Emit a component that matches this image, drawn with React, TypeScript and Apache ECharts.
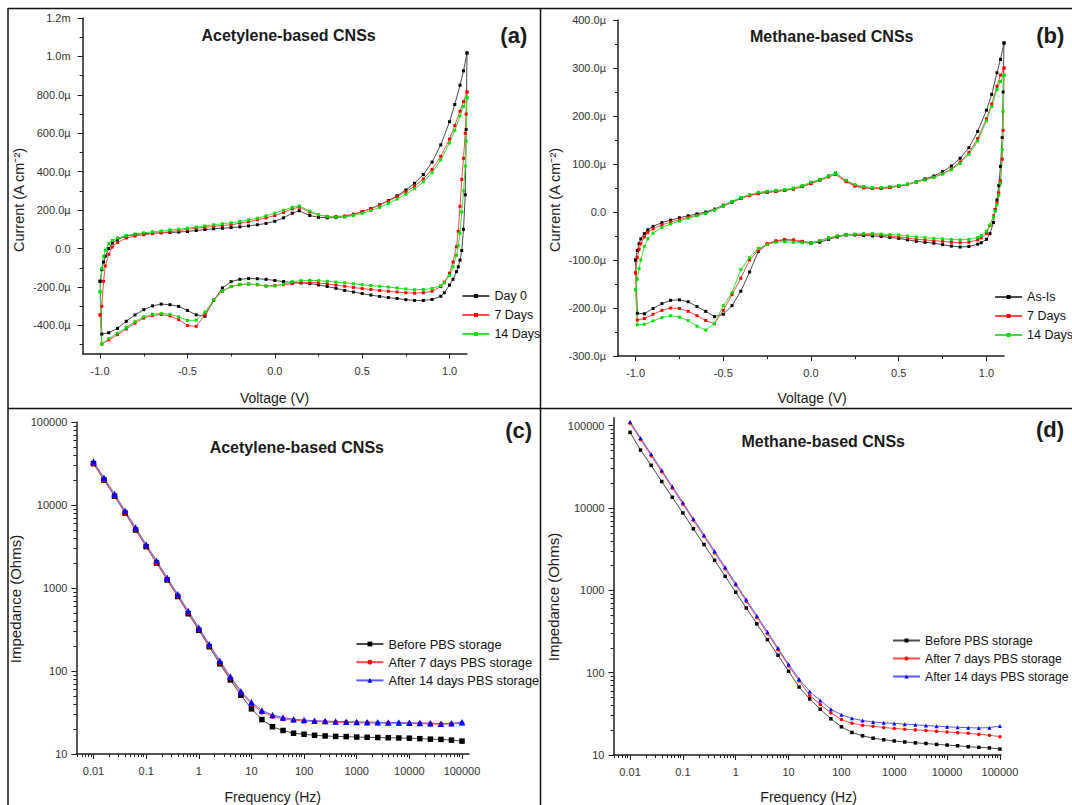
import React, { useEffect, useRef } from 'react';
import * as echarts from 'echarts';

// ---------------- CV data (µA cm^-2) ----------------
const CV_V_FWD = [-1.0, -0.99, -0.98, -0.97, -0.95, -0.93, -0.9, -0.85, -0.8, -0.75, -0.7, -0.65, -0.6, -0.55, -0.5, -0.45, -0.4, -0.35, -0.3, -0.25, -0.2, -0.15, -0.1, -0.05, 0, 0.05, 0.1, 0.14, 0.2, 0.25, 0.3, 0.35, 0.4, 0.45, 0.5, 0.55, 0.6, 0.65, 0.7, 0.75, 0.8, 0.85, 0.9, 0.95, 1.0, 1.03, 1.06, 1.08, 1.1];
const CV_V_REV = [1.1, 1.095, 1.09, 1.08, 1.07, 1.06, 1.05, 1.04, 1.02, 1.0, 0.97, 0.95, 0.9, 0.85, 0.8, 0.75, 0.7, 0.65, 0.6, 0.55, 0.5, 0.45, 0.4, 0.35, 0.3, 0.25, 0.2, 0.15, 0.1, 0.05, 0, -0.05, -0.1, -0.15, -0.2, -0.25, -0.3, -0.35, -0.4, -0.45, -0.5, -0.55, -0.6, -0.65, -0.7, -0.75, -0.8, -0.85, -0.9, -0.95, -0.99];

// (a) Acetylene-based CNSs
const A_DAY0_FWD = [-170, -110, -70, -40, 0, 28, 48, 64, 73, 78, 80, 82, 84, 86, 89, 94, 99, 103, 106, 109, 113, 118, 124, 131, 142, 160, 184, 197, 172, 163, 160, 161, 166, 177, 192, 208, 228, 250, 275, 305, 340, 385, 450, 540, 660, 750, 850, 925, 1018];
const A_DAY0_REV = [1018, 620, 280, 100, -10, -60, -95, -120, -160, -190, -230, -248, -265, -270, -270, -266, -260, -255, -249, -242, -234, -226, -218, -207, -197, -189, -182, -179, -177, -172, -166, -160, -157, -156, -160, -172, -205, -270, -352, -345, -322, -301, -292, -289, -298, -318, -345, -378, -415, -438, -445];
const A_7D_FWD = [-345, -300, -170, -90, -30, 8, 32, 55, 65, 72, 78, 83, 88, 94, 100, 106, 111, 116, 120, 124, 132, 140, 150, 160, 172, 188, 207, 215, 190, 175, 168, 167, 170, 180, 192, 208, 226, 247, 270, 296, 325, 362, 412, 480, 570, 640, 715, 765, 815];
const A_7D_REV = [815, 700, 600, 470, 360, 220, 90, 10, -70, -128, -175, -198, -222, -230, -232, -230, -226, -222, -218, -213, -208, -202, -196, -190, -184, -179, -176, -176, -182, -188, -192, -195, -188, -185, -188, -198, -222, -268, -345, -405, -400, -370, -350, -343, -348, -362, -388, -418, -448, -475, -497];
const A_14D_FWD = [-225, -103, -40, -8, 25, 42, 55, 68, 76, 82, 87, 92, 97, 101, 106, 112, 118, 124, 129, 134, 141, 149, 158, 170, 184, 200, 215, 222, 195, 176, 166, 163, 165, 172, 183, 198, 215, 235, 258, 283, 312, 347, 395, 462, 550, 615, 690, 740, 785];
const A_14D_REV = [785, 560, 430, 300, 190, 80, 15, -35, -95, -140, -178, -192, -208, -213, -214, -210, -205, -200, -196, -192, -188, -183, -178, -174, -170, -167, -166, -167, -172, -185, -195, -195, -188, -184, -186, -198, -220, -268, -330, -373, -374, -355, -342, -337, -342, -355, -380, -410, -440, -468, -497];

// (b) Methane-based CNSs
const B_ASIS_FWD = [-100, -80, -66, -56, -45, -37, -30, -22, -17, -12, -8, -4, 0, 6, 14, 22, 29, 35, 39, 41, 43, 45, 48, 53, 60, 67, 75, 81, 65, 55, 51, 49, 49, 51, 54, 58, 63, 69, 75, 84, 96, 112, 134, 168, 212, 245, 290, 318, 352];
const B_ASIS_REV = [352, 250, 155, 95, 55, 25, 5, -22, -45, -57, -64, -67, -72, -73, -71, -68, -65, -63, -61, -58, -55, -53, -51, -50, -49, -48, -48, -52, -57, -63, -65, -62, -59, -58, -61, -67, -82, -125, -165, -195, -213, -218, -207, -197, -187, -183, -184, -191, -201, -212, -211];
const B_7D_FWD = [-127, -95, -78, -66, -52, -43, -35, -27, -21, -16, -11, -7, -2, 4, 12, 20, 28, 34, 38, 41, 43, 45, 48, 53, 59, 66, 73, 78, 63, 54, 50, 49, 49, 51, 54, 57, 62, 67, 73, 80, 90, 104, 124, 153, 194, 225, 262, 285, 300];
const B_7D_REV = [300, 170, 110, 65, 40, 20, 5, -8, -28, -45, -54, -58, -63, -64, -63, -61, -60, -58, -57, -54, -52, -50, -48, -47, -47, -47, -47, -50, -54, -60, -64, -61, -58, -57, -60, -66, -80, -100, -138, -172, -205, -233, -226, -216, -207, -201, -200, -205, -213, -222, -225];
const B_14D_FWD = [-162, -140, -118, -100, -72, -56, -44, -32, -25, -19, -13, -8, -3, 4, 13, 22, 30, 36, 41, 43, 45, 47, 50, 55, 62, 68, 75, 80, 66, 57, 53, 51, 51, 53, 55, 58, 63, 67, 72, 79, 88, 101, 120, 148, 190, 220, 255, 272, 285];
const B_14D_REV = [285, 210, 130, 60, 35, 15, 2, -10, -27, -40, -49, -53, -57, -58, -57, -56, -55, -53, -52, -50, -48, -47, -46, -45, -45, -46, -47, -50, -54, -60, -65, -64, -63, -62, -63, -68, -76, -95, -120, -168, -195, -232, -246, -238, -226, -219, -216, -220, -227, -234, -235];

// ---------------- EIS data (Ohms vs Hz) ----------------
const FREQ = [0.01, 0.0158, 0.0251, 0.0398, 0.0631, 0.1, 0.158, 0.251, 0.398, 0.631, 1, 1.58, 2.51, 3.98, 6.31, 10, 15.8, 25.1, 39.8, 63.1, 100, 158, 251, 398, 631, 1000, 1580, 2510, 3980, 6310, 10000, 15800, 25100, 39800, 63100, 100000];
const C_BEFORE = [31500, 20000, 12800, 8000, 5000, 3150, 2000, 1250, 790, 490, 310, 196, 122, 78, 51, 35, 26, 21.3, 19.2, 17.8, 17.3, 16.8, 16.5, 16.3, 16.2, 16.0, 15.9, 15.8, 15.7, 15.6, 15.5, 15.3, 15.1, 15.0, 14.7, 14.3];
const C_7D = [31800, 20300, 13000, 8100, 5100, 3200, 2020, 1270, 800, 505, 318, 200, 127, 82, 55, 40, 32, 28.5, 26.5, 25.5, 25, 24.6, 24.3, 24.1, 24, 23.8, 23.7, 23.6, 23.5, 23.4, 23.3, 23.2, 23, 22.9, 23, 23.5];
const C_14D = [33500, 21300, 13600, 8500, 5350, 3350, 2130, 1330, 840, 530, 333, 210, 133, 86, 57, 42, 33.5, 29.5, 27.5, 26.3, 25.6, 25.2, 24.9, 24.7, 24.5, 24.3, 24.2, 24.1, 24, 23.9, 23.8, 23.7, 23.5, 23.2, 23.4, 24.2];
const D_BEFORE = [83000, 50500, 33000, 21000, 13500, 8700, 5600, 3600, 2320, 1480, 950, 610, 392, 252, 163, 104, 67, 48, 36, 27.5, 22, 18.8, 17.1, 16.0, 15.3, 14.8, 14.4, 14.05, 13.8, 13.45, 13.2, 12.95, 12.6, 12.4, 12.2, 11.8];
const D_7D = [107000, 68100, 43300, 27500, 17500, 11150, 7090, 4510, 2870, 1825, 1160, 738, 469, 299, 190, 121, 80, 53, 41, 32.5, 27, 24.3, 23, 22.3, 21.6, 21.0, 20.6, 20.2, 19.9, 19.4, 19.0, 18.7, 18.4, 17.8, 17.4, 16.7];
const D_14D = [112000, 71000, 45200, 28700, 18300, 11650, 7400, 4710, 3000, 1905, 1212, 772, 491, 313, 199, 127, 84, 59, 46, 36, 30.8, 27.9, 26.2, 25.2, 24.6, 24.2, 23.7, 23.3, 22.8, 22.4, 22.0, 21.7, 21.5, 21.3, 21.5, 22.5];

// ---------------- tick labels ----------------
const V_TICKS = [-1, -0.5, 0, 0.5, 1];
const V_LABELS = ['-1.0', '-0.5', '0.0', '0.5', '1.0'];
const V_MINOR = [-0.75, -0.25, 0.25, 0.75];
const A_Y_TICKS = [-400, -200, 0, 200, 400, 600, 800, 1000, 1200];
const A_Y_LABELS = ['-400.0µ', '-200.0µ', '0.0', '200.0µ', '400.0µ', '600.0µ', '800.0µ', '1.0m', '1.2m'];
const A_Y_MINOR = [-500, -300, -100, 100, 300, 500, 700, 900, 1100];
const B_Y_TICKS = [-300, -200, -100, 0, 100, 200, 300, 400];
const B_Y_LABELS = ['-300.0µ', '-200.0µ', '-100.0µ', '0.0', '100.0µ', '200.0µ', '300.0µ', '400.0µ'];
const B_Y_MINOR = [-250, -150, -50, 50, 150, 250, 350];
const F_TICKS = [-2, -1, 0, 1, 2, 3, 4, 5];
const F_LABELS = ['0.01', '0.1', '1', '10', '100', '1000', '10000', '100000'];
const Z_TICKS = [1, 2, 3, 4, 5];
const Z_LABELS = ['10', '100', '1000', '10000', '100000'];

const FONT = '"Liberation Sans", Arial, Helvetica, sans-serif';
const AXIS_COLOR = '#1e1e1e';

function logMinors(min: number, max: number) {
  const out: number[] = [];
  for (let n = Math.floor(min); n <= Math.ceil(max); n++) {
    for (let k = 2; k <= 9; k++) {
      const v = n + Math.log10(k);
      if (v >= min && v <= max) out.push(v);
    }
  }
  return out;
}

function cvLoop(vf: number[], fwd: number[], vr: number[], rev: number[]) {
  const d: number[][] = vf.map((v, i) => [v, fwd[i]]);
  vr.forEach((v, i) => d.push([v, rev[i]]));
  d.push(d[0]);
  return d;
}

function eis(freq: number[], z: number[]) {
  return freq.map((f, i) => [Math.log10(f), Math.log10(z[i])]);
}

function fmtFrom(ticks: number[], labels: string[]) {
  return (v: number) => {
    const i = ticks.findIndex((t) => Math.abs(t - v) < 1e-6);
    return i >= 0 ? labels[i] : '';
  };
}

function axisPair(gridIndex: number, position: string, min: number, max: number, ticks: number[], labels: string[], minors: number[], margin: number) {
  const main = {
    type: 'value', gridIndex, position, min, max,
    axisLine: { show: true, onZero: false, lineStyle: { color: AXIS_COLOR, width: 1.5 } },
    axisTick: { show: true, inside: false, length: 5, customValues: ticks, lineStyle: { color: AXIS_COLOR, width: 1 } },
    axisLabel: { show: true, customValues: ticks, margin, color: '#333', fontSize: 11, fontFamily: FONT, formatter: fmtFrom(ticks, labels) },
    splitLine: { show: false },
  };
  const minor = {
    type: 'value', gridIndex, position, min, max,
    axisLine: { show: false, onZero: false },
    axisTick: { show: true, inside: false, length: 3, customValues: minors, lineStyle: { color: AXIS_COLOR, width: 1 } },
    axisLabel: { show: false },
    splitLine: { show: false },
  };
  return [main, minor];
}

function lineSeries(name: string, xi: number, yi: number, data: number[][], color: string, lineColor: string, symbol: string, size: number) {
  return {
    type: 'line', name, xAxisIndex: xi, yAxisIndex: yi, data,
    symbol, symbolSize: size, showSymbol: true,
    lineStyle: { color: lineColor, width: 1 },
    itemStyle: { color },
    emphasis: { disabled: true },
    clip: false,
  };
}

function legend(names: string[], left: number, top: number, fontSize: number, itemHeight: number, gap: number) {
  return {
    show: true, orient: 'vertical', left, top, padding: 0,
    itemWidth: 27, itemHeight, itemGap: gap,
    data: names, selectedMode: false,
    formatter: (n: string) => n.split('::')[1],
    textStyle: { fontFamily: FONT, fontSize, color: '#111' },
  };
}

function txt(text: string, x: number, y: number, size: number, bold: boolean, rot = 0) {
  return {
    type: 'text', x, y, rotation: rot,
    style: { text, fontSize: size, fontWeight: bold ? 'bold' : 'normal', fontFamily: FONT, fill: '#1a1a1a', align: 'center', verticalAlign: 'middle' },
  };
}

function hline(x1: number, x2: number, y: number) {
  return { type: 'line', shape: { x1, y1: y, x2, y2: y }, style: { stroke: '#111', lineWidth: 1.5 } };
}
function vline(x: number, y1: number, y2: number) {
  return { type: 'line', shape: { x1: x, y1, x2: x, y2 }, style: { stroke: '#111', lineWidth: 1.5 } };
}

const BLACK = '#000000', BLACK_L = '#4a4a4a';
const RED = '#ff0000', RED_L = '#ff4a4a';
const GREEN = '#00e000', GREEN_L = '#35e635';
const BLUE = '#0000ff', BLUE_L = '#5a5aff';

function buildOption() {
  const C_XMIN = -2.325, C_XMAX = 5.133;
  const D_XMIN = -2.313, D_XMAX = 5.02, D_YMAX = 5.097;

  const xAxis = [
    ...axisPair(0, 'bottom', -1.1, 1.1, V_TICKS, V_LABELS, V_MINOR, 12),
    ...axisPair(1, 'bottom', -1.1, 1.1, V_TICKS, V_LABELS, V_MINOR, 11),
    ...axisPair(2, 'bottom', C_XMIN, C_XMAX, F_TICKS, F_LABELS, logMinors(C_XMIN, C_XMAX), 11),
    ...axisPair(3, 'bottom', D_XMIN, D_XMAX, F_TICKS, F_LABELS, logMinors(D_XMIN, D_XMAX), 11),
  ];
  const yAxis = [
    ...axisPair(0, 'left', -546, 1200, A_Y_TICKS, A_Y_LABELS, A_Y_MINOR, 12),
    ...axisPair(1, 'left', -300, 400, B_Y_TICKS, B_Y_LABELS, B_Y_MINOR, 12),
    ...axisPair(2, 'left', 1, 5, Z_TICKS, Z_LABELS, logMinors(1, 5), 9),
    ...axisPair(3, 'left', 1, D_YMAX, Z_TICKS, Z_LABELS, logMinors(1, D_YMAX), 9),
  ];

  const series = [
    lineSeries('a::Day 0', 0, 0, cvLoop(CV_V_FWD, A_DAY0_FWD, CV_V_REV, A_DAY0_REV), BLACK, BLACK_L, 'rect', 3),
    lineSeries('a::7 Days', 0, 0, cvLoop(CV_V_FWD, A_7D_FWD, CV_V_REV, A_7D_REV), RED, RED_L, 'rect', 3),
    lineSeries('a::14 Days', 0, 0, cvLoop(CV_V_FWD, A_14D_FWD, CV_V_REV, A_14D_REV), GREEN, GREEN_L, 'rect', 3),
    lineSeries('b::As-Is', 2, 2, cvLoop(CV_V_FWD, B_ASIS_FWD, CV_V_REV, B_ASIS_REV), BLACK, BLACK_L, 'rect', 3),
    lineSeries('b::7 Days', 2, 2, cvLoop(CV_V_FWD, B_7D_FWD, CV_V_REV, B_7D_REV), RED, RED_L, 'rect', 3),
    lineSeries('b::14 Days', 2, 2, cvLoop(CV_V_FWD, B_14D_FWD, CV_V_REV, B_14D_REV), GREEN, GREEN_L, 'rect', 3),
    lineSeries('c::Before PBS storage', 4, 4, eis(FREQ, C_BEFORE), BLACK, BLACK_L, 'rect', 5.5),
    lineSeries('c::After 7 days PBS storage', 4, 4, eis(FREQ, C_7D), RED, RED_L, 'circle', 5),
    lineSeries('c::After 14 days PBS storage', 4, 4, eis(FREQ, C_14D), BLUE, BLUE_L, 'triangle', 6.5),
    lineSeries('d::Before PBS storage', 6, 6, eis(FREQ, D_BEFORE), BLACK, BLACK_L, 'rect', 3.5),
    lineSeries('d::After 7 days PBS storage', 6, 6, eis(FREQ, D_7D), RED, RED_L, 'circle', 3.5),
    lineSeries('d::After 14 days PBS storage', 6, 6, eis(FREQ, D_14D), BLUE, BLUE_L, 'triangle', 4),
  ];

  const grids = [
    { left: 82.6, top: 18, width: 384.4, height: 335.5 },
    { left: 618, top: 20, width: 386, height: 336 },
    { left: 76.4, top: 422, width: 392.6, height: 332 },
    { left: 613.5, top: 417.7, width: 387.5, height: 337.3 },
  ].map((g) => ({ ...g, containLabel: false, outerBoundsMode: 'none', show: false }));

  const legends = [
    legend(['a::Day 0', 'a::7 Days', 'a::14 Days'], 461.4, 289.5, 12.5, 5, 6),
    legend(['b::As-Is', 'b::7 Days', 'b::14 Days'], 994.1, 290.5, 12.5, 5, 6),
    legend(['c::Before PBS storage', 'c::After 7 days PBS storage', 'c::After 14 days PBS storage'], 355.4, 637.5, 12.8, 6, 5.2),
    legend(['d::Before PBS storage', 'd::After 7 days PBS storage', 'd::After 14 days PBS storage'], 892, 634.5, 12.2, 5, 6),
  ];

  const graphic = {
    elements: [
      hline(8, 1072, 8.5),
      vline(8, 8, 805),
      vline(540.5, 8, 805),
      hline(8, 1072, 408.5),
      txt('Acetylene-based CNSs', 288.6, 35, 16, true),
      txt('Methane-based CNSs', 831.7, 36.7, 16, true),
      txt('Acetylene-based CNSs', 296.8, 447.7, 16, true),
      txt('Methane-based CNSs', 823.2, 441, 16, true),
      txt('(a)', 513.8, 35, 22, true),
      txt('(b)', 1050.2, 35, 22, true),
      txt('(c)', 518.6, 430, 22, true),
      txt('(d)', 1050, 429, 22, true),
      txt('Current (A cm⁻²)', 19, 200, 14.5, false, Math.PI / 2),
      txt('Current (A cm⁻²)', 554.8, 200, 14.5, false, Math.PI / 2),
      txt('Impedance (Ohms)', 15.5, 599, 15, false, Math.PI / 2),
      txt('Impedance (Ohms)', 553, 597, 15, false, Math.PI / 2),
      txt('Voltage (V)', 274.5, 397.7, 14, false),
      txt('Voltage (V)', 812, 398.3, 14, false),
      txt('Frequency (Hz)', 272.8, 796.5, 14, false),
      txt('Frequency (Hz)', 808.6, 796.5, 14, false),
    ],
  };

  return {
    animation: false,
    backgroundColor: '#ffffff',
    textStyle: { fontFamily: FONT },
    grid: grids,
    xAxis,
    yAxis,
    legend: legends,
    series,
    graphic,
  };
}

export default function App() {
  const ref = useRef<HTMLDivElement>(null);
  useEffect(() => {
    if (!ref.current) return;
    const chart = echarts.init(ref.current, null, { renderer: 'svg' });
    chart.setOption(buildOption() as any);
    return () => chart.dispose();
  }, []);
  return <div ref={ref} style={{ position: 'absolute', left: 0, top: 0, width: 1072, height: 805, background: '#fff' }} />;
}
